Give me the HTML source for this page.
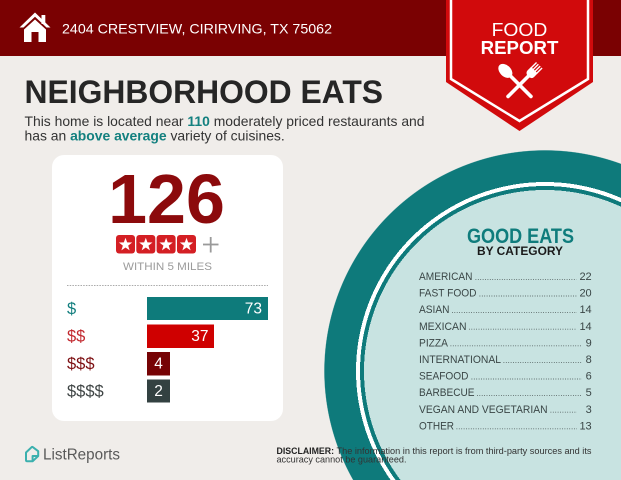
<!DOCTYPE html>
<html>
<head>
<meta charset="utf-8">
<style>
  html, body { margin:0; padding:0; background:#f0edea; }
  body { width:621px; height:480px; overflow:hidden; }
  svg { display:block; font-family:"Liberation Sans", Arial, sans-serif; overflow:hidden; }
</style>
</head>
<body>
<svg width="621" height="480" viewBox="0 0 621 480" xmlns="http://www.w3.org/2000/svg">
  <defs>
    <radialGradient id="plate" gradientUnits="userSpaceOnUse" cx="545" cy="371" r="221" fx="545" fy="371">
      <stop offset="0" stop-color="#c8e3e1"/>
      <stop offset="0.819" stop-color="#c8e3e1"/>
      <stop offset="0.819" stop-color="#0e7a7b"/>
      <stop offset="0.837" stop-color="#0e7a7b"/>
      <stop offset="0.837" stop-color="#ffffff"/>
      <stop offset="0.855" stop-color="#ffffff"/>
      <stop offset="0.855" stop-color="#0e7a7b"/>
      <stop offset="0.997" stop-color="#0e7a7b"/>
      <stop offset="1" stop-color="#0e7a7b" stop-opacity="0"/>
    </radialGradient>
  </defs>
  <!-- background -->
  <rect x="0" y="0" width="621" height="480" fill="#f0edea"/>
  <!-- header bar -->
  <rect x="0" y="0" width="621" height="56" fill="#7a0102"/>

  <!-- big circle (drawn with radial gradient inside frame) -->
  <rect x="322" y="148" width="299" height="332" fill="url(#plate)"/>

  <!-- white card -->
  <rect x="52" y="155" width="231" height="266" rx="12" ry="12" fill="#ffffff"/>

  <!-- banner -->
  <polygon points="446,0 593,0 593,82 519.5,131 446,82" fill="#d10a0c"/>
  <polyline points="451,0 451,79 519.5,121 588,79 588,0" fill="none" stroke="#ffffff" stroke-width="2.5"/>
  <text x="519.5" y="36" text-anchor="middle" font-size="18.6" fill="#ffffff" textLength="55.7" lengthAdjust="spacingAndGlyphs">FOOD</text>
  <text x="519.5" y="54" text-anchor="middle" font-size="18" font-weight="bold" fill="#ffffff" textLength="77.7" lengthAdjust="spacingAndGlyphs">REPORT</text>
  <!-- spoon -->
  <g transform="translate(519.5,85) rotate(-45)" fill="#ffffff">
    <ellipse cx="0" cy="-20" rx="5.6" ry="8.2"/>
    <rect x="-1.8" y="-14" width="3.6" height="32" rx="1.8"/>
  </g>
  <!-- fork -->
  <g transform="translate(519.5,85) rotate(45)" fill="#ffffff">
    <rect x="-1.8" y="-14" width="3.6" height="32" rx="1.8"/>
    <path d="M-4.6,-21 L4.6,-21 L4.6,-16 Q4.6,-12.5 0,-12 Q-4.6,-12.5 -4.6,-16 Z"/>
    <rect x="-4.6" y="-28" width="1.4" height="8"/>
    <rect x="-2.0" y="-28" width="1.4" height="8"/>
    <rect x="0.6" y="-28" width="1.4" height="8"/>
    <rect x="3.2" y="-28" width="1.4" height="8"/>
  </g>

  <!-- house icon -->
  <g fill="#ffffff">
    <rect x="41.5" y="15" width="3.8" height="9"/>
    <polygon points="35,12.5 50.5,27.5 46.5,27.5 35,16.8 23.5,27.5 19.5,27.5"/>
    <polygon points="35,19.5 46,29.5 46,42 38.5,42 38.5,32 31.5,32 31.5,42 24,42 24,29.5"/>
  </g>
  <text x="62" y="33.5" font-size="14" fill="#ffffff" textLength="270" lengthAdjust="spacingAndGlyphs">2404 CRESTVIEW, CIRIRVING, TX 75062</text>

  <!-- title -->
  <text x="24.5" y="103" font-size="32" font-weight="bold" fill="#262626" textLength="358.5" lengthAdjust="spacingAndGlyphs">NEIGHBORHOOD EATS</text>
  <text x="24.5" y="126" font-size="13.9" fill="#333333">This home is located near <tspan font-weight="bold" fill="#13807f">110</tspan> moderately priced restaurants and</text>
  <text x="24.5" y="140.5" font-size="13.9" fill="#333333">has an <tspan font-weight="bold" fill="#13807f">above average</tspan> variety of cuisines.</text>

  <!-- card content -->
  <text x="166.5" y="223" text-anchor="middle" font-size="70" font-weight="bold" fill="#8c0a0c">126</text>
  <!-- stars -->
  <g>
    <rect x="116" y="235" width="19" height="18.5" rx="3" fill="#d41f24"/>
    <rect x="136.3" y="235" width="19" height="18.5" rx="3" fill="#d41f24"/>
    <rect x="156.6" y="235" width="19" height="18.5" rx="3" fill="#d41f24"/>
    <rect x="177" y="235" width="19" height="18.5" rx="3" fill="#d41f24"/>
    <polygon transform="translate(125.5,244.7)" fill="#ffffff" points="0,-7 1.646,-2.265 6.657,-2.163 2.663,0.865 4.114,5.663 0,2.8 -4.114,5.663 -2.663,0.865 -6.657,-2.163 -1.646,-2.265"/>
    <polygon transform="translate(145.8,244.7)" fill="#ffffff" points="0,-7 1.646,-2.265 6.657,-2.163 2.663,0.865 4.114,5.663 0,2.8 -4.114,5.663 -2.663,0.865 -6.657,-2.163 -1.646,-2.265"/>
    <polygon transform="translate(166.1,244.7)" fill="#ffffff" points="0,-7 1.646,-2.265 6.657,-2.163 2.663,0.865 4.114,5.663 0,2.8 -4.114,5.663 -2.663,0.865 -6.657,-2.163 -1.646,-2.265"/>
    <polygon transform="translate(186.5,244.7)" fill="#ffffff" points="0,-7 1.646,-2.265 6.657,-2.163 2.663,0.865 4.114,5.663 0,2.8 -4.114,5.663 -2.663,0.865 -6.657,-2.163 -1.646,-2.265"/>
  </g>
  <line x1="203" y1="244.5" x2="218.5" y2="244.5" stroke="#9a9a9a" stroke-width="1.8"/>
  <line x1="210.7" y1="237" x2="210.7" y2="252.5" stroke="#9a9a9a" stroke-width="1.8"/>
  <text x="167.5" y="270" text-anchor="middle" font-size="11" fill="#9b9b9b" textLength="89" lengthAdjust="spacingAndGlyphs">WITHIN 5 MILES</text>
  <line x1="67" y1="285.5" x2="268" y2="285.5" stroke="#aaaaaa" stroke-width="1" stroke-dasharray="1.5 1.2"/>

  <!-- bars -->
  <text x="67" y="314" font-size="16.5" fill="#127e7e">$</text>
  <rect x="147" y="297" width="121" height="23" fill="#0e7b7b"/>
  <text x="262" y="313.5" text-anchor="end" font-size="15.5" fill="#ffffff">73</text>

  <text x="67" y="341.5" font-size="16.5" fill="#c2282e">$$</text>
  <rect x="147" y="324.5" width="67" height="23.5" fill="#cf0000"/>
  <text x="208.5" y="341" text-anchor="end" font-size="15.5" fill="#ffffff">37</text>

  <text x="67" y="369" font-size="16.5" fill="#7d0f12">$$$</text>
  <rect x="147" y="352" width="23" height="23.5" fill="#760305"/>
  <text x="158.5" y="368.5" text-anchor="middle" font-size="15.5" fill="#ffffff">4</text>

  <text x="67" y="396.5" font-size="16.5" fill="#3e4444">$$$$</text>
  <rect x="147" y="379.5" width="23" height="23" fill="#334141"/>
  <text x="158.5" y="396" text-anchor="middle" font-size="15.5" fill="#ffffff">2</text>

  <!-- ListReports logo -->
  <path d="M26,452.5 L31.6,447.2 Q32.2,446.7 32.9,447.2 L38.2,451.2 L38.2,456 L32.6,461.3 L27.2,461.3 Q26,461.3 26,460 Z" fill="none" stroke="#3bb0ae" stroke-width="2" stroke-linejoin="round"/>
  <path d="M32.6,461.3 L32.6,456 L38.2,456" fill="none" stroke="#3bb0ae" stroke-width="2" stroke-linejoin="round"/>
  <text x="43" y="459.5" font-size="15.5" fill="#5a5a5a" textLength="77" lengthAdjust="spacingAndGlyphs">ListReports</text>

  <!-- right list -->
  <text x="520.5" y="243" text-anchor="middle" font-size="21" font-weight="bold" fill="#0f7c7c" textLength="107" lengthAdjust="spacingAndGlyphs">GOOD EATS</text>
  <text x="520" y="255" text-anchor="middle" font-size="11.6" font-weight="bold" fill="#1a1a1a" textLength="86" lengthAdjust="spacingAndGlyphs">BY CATEGORY</text>

  <g font-size="11" fill="#3a4646">
    <text x="419" y="280" textLength="53.5" lengthAdjust="spacingAndGlyphs">AMERICAN</text>
    <text x="591.7" y="280" text-anchor="end">22</text>
    <text x="419" y="296.6" textLength="57.5" lengthAdjust="spacingAndGlyphs">FAST FOOD</text>
    <text x="591.7" y="296.6" text-anchor="end">20</text>
    <text x="419" y="313.2" textLength="30.5" lengthAdjust="spacingAndGlyphs">ASIAN</text>
    <text x="591.7" y="313.2" text-anchor="end">14</text>
    <text x="419" y="329.8" textLength="47.5" lengthAdjust="spacingAndGlyphs">MEXICAN</text>
    <text x="591.7" y="329.8" text-anchor="end">14</text>
    <text x="419" y="346.4" textLength="29" lengthAdjust="spacingAndGlyphs">PIZZA</text>
    <text x="591.7" y="346.4" text-anchor="end">9</text>
    <text x="419" y="363" textLength="82" lengthAdjust="spacingAndGlyphs">INTERNATIONAL</text>
    <text x="591.7" y="363" text-anchor="end">8</text>
    <text x="419" y="379.6" textLength="49.5" lengthAdjust="spacingAndGlyphs">SEAFOOD</text>
    <text x="591.7" y="379.6" text-anchor="end">6</text>
    <text x="419" y="396.2" textLength="55.5" lengthAdjust="spacingAndGlyphs">BARBECUE</text>
    <text x="591.7" y="396.2" text-anchor="end">5</text>
    <text x="419" y="412.8" textLength="128.5" lengthAdjust="spacingAndGlyphs">VEGAN AND VEGETARIAN</text>
    <text x="591.7" y="412.8" text-anchor="end">3</text>
    <text x="419" y="429.4" textLength="35" lengthAdjust="spacingAndGlyphs">OTHER</text>
    <text x="591.7" y="429.4" text-anchor="end">13</text>
  </g>
  <g stroke="#4a5555" stroke-width="0.9" stroke-dasharray="0.8 1.6">
    <line x1="475.5" y1="279.4" x2="576.5" y2="279.4"/>
    <line x1="479.5" y1="296" x2="576.5" y2="296"/>
    <line x1="452" y1="312.6" x2="577" y2="312.6"/>
    <line x1="469" y1="329.2" x2="577" y2="329.2"/>
    <line x1="450.5" y1="345.8" x2="582" y2="345.8"/>
    <line x1="503.5" y1="362.4" x2="582" y2="362.4"/>
    <line x1="471.5" y1="379" x2="582" y2="379"/>
    <line x1="477" y1="395.6" x2="582" y2="395.6"/>
    <line x1="550.5" y1="412.2" x2="577" y2="412.2"/>
    <line x1="456.5" y1="428.8" x2="577" y2="428.8"/>
  </g>

  <!-- disclaimer -->
  <text x="276.5" y="454" font-size="9" font-weight="bold" fill="#222222" textLength="57.5" lengthAdjust="spacingAndGlyphs">DISCLAIMER:</text>
  <text x="336.5" y="454" font-size="9" fill="#333333" textLength="255" lengthAdjust="spacingAndGlyphs">The information in this report is from third-party sources and its</text>
  <text x="276.5" y="462.5" font-size="9" fill="#333333" textLength="130" lengthAdjust="spacingAndGlyphs">accuracy cannot be guaranteed.</text>
</svg>
</body>
</html>
